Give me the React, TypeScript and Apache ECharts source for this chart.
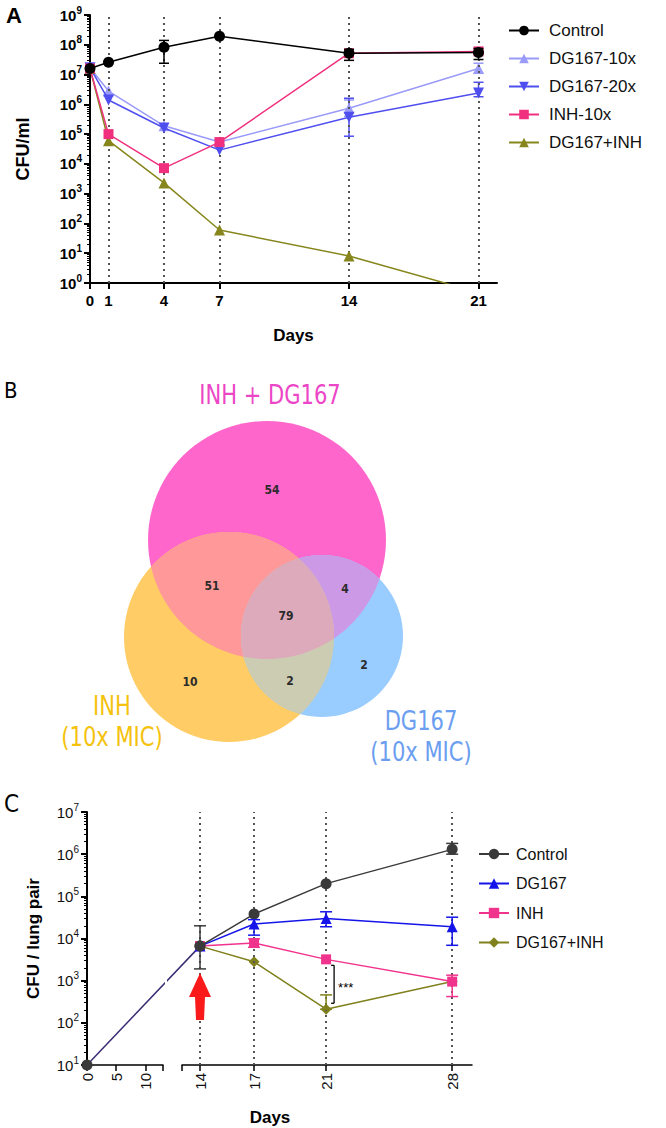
import React, { useEffect, useRef } from "react";
import * as echarts from "echarts";

// ---------------- Panel A data ----------------
const daysA = [0, 1, 4, 7, 14, 21];
const tickDaysA = [0, 1, 4, 7, 14, 21];
const dottedDaysA = [1, 4, 7, 14, 21];
const namesA = ["Control", "DG167-10x", "DG167-20x", "INH-10x", "DG167+INH"];
const controlA = [1.6e7, 2.6e7, 8.3e7, 1.95e8, 5.2e7, 5.5e7];
const controlA_lo = [null, null, 2.4e7, null, 3.0e7, 3.2e7];
const controlA_hi = [null, null, 1.4e8, null, 7.0e7, 7.5e7];
const dg10A = [1.7e7, 2.8e6, 1.9e5, 5.4e4, 7.4e5, 1.6e7];
const dg10A_lo = [null, null, null, null, 4.0e5, 1.1e7];
const dg10A_hi = [null, null, null, null, 1.4e6, 2.4e7];
const dg20A = [1.7e7, 1.4e6, 1.6e5, 2.9e4, 3.7e5, 2.4e6];
const dg20A_lo = [null, null, null, null, 8.5e4, 1.8e6];
const dg20A_hi = [null, null, null, null, 1.6e6, 5.5e6];
const inhA = [1.6e7, 1.0e5, 7.2e3, 5.4e4, 5.2e7, 6.0e7];
const comboA = [1.6e7, 6.0e4, 2.3e3, 6.0e1, 8.1, 0.48];

// ---------------- Panel B data ----------------
const vennSetNames = ["INH + DG167", "INH\n(10x MIC)", "DG167\n(10x MIC)"];
// regions: combo only, combo∩INH, all three, combo∩DG, INH only, INH∩DG, DG only
const vennRegionKeys = ["C", "CI", "CID", "CD", "I", "ID", "D"];
const vennRegionCounts = [54, 51, 79, 4, 10, 2, 2];

// ---------------- Panel C data ----------------
const preDaysC = [0, 14];
const preC = [10, 6.6e3];
const preC_lo = [null, 1.9e3];
const preC_hi = [null, 2.0e4];
const daysC = [14, 17, 21, 28];
const namesC = ["Control", "DG167", "INH", "DG167+INH"];
const controlC = [6.6e3, 3.8e4, 2.0e5, 1.3e6];
const controlC_lo = [null, null, null, 1.0e6];
const controlC_hi = [null, null, null, 1.8e6];
const dgC = [6.6e3, 2.2e4, 3.0e4, 1.9e4];
const dgC_lo = [null, 1.2e4, 1.9e4, 6.9e3];
const dgC_hi = [null, 2.8e4, 4.3e4, 3.2e4];
const inhC = [6.6e3, 7.8e3, 3.2e3, 9.5e2];
const inhC_lo = [null, 6.2e3, null, 4.2e2];
const inhC_hi = [null, 9.8e3, null, 1.35e3];
const comboC = [6.6e3, 2.8e3, 2.1e2, 9.5e2];
const comboC_lo = [null, null, 2.1e2, null];
const comboC_hi = [null, null, 4.6e2, null];
const dottedDaysC = [14, 17, 21, 28];
const leftTicksC = [0, 5, 10];
const rightTicksC = [14, 17, 21, 28];
const sigDay = 21;
const sigLabel = "***";
const arrowDay = 14;

// ---------------- helpers ----------------
const FONT = "'Liberation Sans', Arial, sans-serif";
const NARROW = "'Liberation Sans Narrow', 'DejaVu Sans Condensed', 'Liberation Sans', sans-serif";

const supLabel = (v: number) => "{b|10}{e|" + Math.round(Math.log10(v)) + "}";

function errorBars(xs: number[], lo: any[], hi: any[], color: string, xAxisIndex: number, yAxisIndex: number, xf: (d: number) => number = (d) => d, capHalf = 5, lw = 1.5, z = 3) {
  const data: number[][] = [];
  xs.forEach((d, i) => {
    if (lo[i] != null && hi[i] != null) data.push([xf(d), lo[i], hi[i]]);
  });
  return {
    type: "custom",
    xAxisIndex,
    yAxisIndex,
    silent: true,
    z,
    data,
    encode: { x: 0, y: [1, 2] },
    renderItem: (_p: any, api: any) => {
      const x = api.value(0);
      const p1 = api.coord([x, api.value(1)]);
      const p2 = api.coord([x, api.value(2)]);
      const st = { stroke: color, lineWidth: lw };
      return {
        type: "group",
        children: [
          { type: "line", shape: { x1: p1[0], y1: p1[1], x2: p2[0], y2: p2[1] }, style: st },
          { type: "line", shape: { x1: p1[0] - capHalf, y1: p1[1], x2: p1[0] + capHalf, y2: p1[1] }, style: st },
          { type: "line", shape: { x1: p2[0] - capHalf, y1: p2[1], x2: p2[0] + capHalf, y2: p2[1] }, style: st },
        ],
      };
    },
  };
}

// circle polygon + convex clipping for Venn overlaps
function circlePts(cx: number, cy: number, r: number, n = 180) {
  const pts: number[][] = [];
  for (let i = 0; i < n; i++) {
    const a = (2 * Math.PI * i) / n;
    pts.push([cx + r * Math.cos(a), cy + r * Math.sin(a)]);
  }
  return pts;
}
function clipPoly(subject: number[][], clip: number[][]) {
  let output = subject;
  for (let i = 0; i < clip.length; i++) {
    const A = clip[i];
    const B = clip[(i + 1) % clip.length];
    const input = output;
    output = [];
    if (!input.length) break;
    const inside = (p: number[]) => (B[0] - A[0]) * (p[1] - A[1]) - (B[1] - A[1]) * (p[0] - A[0]) >= 0;
    const inter = (p: number[], q: number[]) => {
      const a1 = B[1] - A[1], b1 = A[0] - B[0], c1 = a1 * A[0] + b1 * A[1];
      const a2 = q[1] - p[1], b2 = p[0] - q[0], c2 = a2 * p[0] + b2 * p[1];
      const det = a1 * b2 - a2 * b1;
      return [(b2 * c1 - b1 * c2) / det, (a1 * c2 - a2 * c1) / det];
    };
    let S = input[input.length - 1];
    for (const E of input) {
      if (inside(E)) {
        if (!inside(S)) output.push(inter(S, E));
        output.push(E);
      } else if (inside(S)) {
        output.push(inter(S, E));
      }
      S = E;
    }
  }
  return output;
}
const rgb = (c: number[]) => `rgb(${c.map((v) => Math.round(v)).join(",")})`;
const mix = (...cs: number[][]) => [0, 1, 2].map((k) => cs.reduce((s, c) => s + c[k], 0) / cs.length);

// ---------------- Option A + B ----------------
function optionAB() {
  const styleA = [
    { data: dg10A, color: "#9a9af8", symbol: "triangle", size: 11, rotate: 0 },
    { data: dg20A, color: "#4f4ff0", symbol: "triangle", size: 11, rotate: 180 },
    { data: comboA, color: "#86861c", symbol: "triangle", size: 11, rotate: 0 },
    { data: inhA, color: "#f0307f", symbol: "rect", size: 10, rotate: 0 },
    { data: controlA, color: "#000000", symbol: "circle", size: 11, rotate: 0 },
  ];
  const nameOrder = ["DG167-10x", "DG167-20x", "DG167+INH", "INH-10x", "Control"];
  const series: any[] = styleA.map((s, i) => ({
    name: nameOrder[i],
    type: "line",
    data: daysA.map((d, k) => [d, s.data[k]]),
    symbol: s.symbol,
    symbolSize: s.size,
    symbolRotate: s.rotate,
    lineStyle: { color: s.color, width: 1.5 },
    itemStyle: { color: s.color },
    clip: true,
    z: 4 + i,
  }));
  series.push({
    type: "line",
    data: [],
    silent: true,
    markLine: {
      silent: true,
      symbol: ["none", "none"],
      label: { show: false },
      lineStyle: { type: [2, 4], color: "#555", width: 2 },
      data: dottedDaysA.map((d) => ({ xAxis: d })),
    },
    z: 1,
  });
  series.push(errorBars(daysA, controlA_lo, controlA_hi, "#000", 0, 0, (d) => d, 5, 1.5, 9));
  series.push(errorBars(daysA, dg10A_lo, dg10A_hi, "#9a9af8", 0, 0, (d) => d, 5, 1.5, 3));
  series.push(errorBars(daysA, dg20A_lo, dg20A_hi, "#4f4ff0", 0, 0, (d) => d, 5, 1.5, 3));

  // Venn layout
  const circles = [
    { cx: 267, cy: 540, r: 119, color: [255, 102, 204] },
    { cx: 229, cy: 637, r: 105, color: [255, 204, 102] },
    { cx: 322, cy: 636, r: 81, color: [153, 204, 255] },
  ];
  const polys = circles.map((c) => circlePts(c.cx, c.cy, c.r));
  const g: any[] = [];
  circles.forEach((c) => g.push({ type: "circle", shape: { cx: c.cx, cy: c.cy, r: c.r }, style: { fill: rgb(c.color) }, z: 1 }));
  const pairs = [[0, 1], [0, 2], [1, 2]];
  pairs.forEach(([a, b]) => {
    g.push({ type: "polygon", shape: { points: clipPoly(polys[a], polys[b]) }, style: { fill: rgb(mix(circles[a].color, circles[b].color)) }, z: 2 });
  });
  g.push({
    type: "polygon",
    shape: { points: clipPoly(clipPoly(polys[0], polys[1]), polys[2]) },
    style: { fill: rgb(mix(circles[0].color, circles[1].color, circles[2].color)) },
    z: 3,
  });
  const regionPos: Record<string, number[]> = {
    C: [272, 490], CI: [212, 586], CID: [286, 616], CD: [345, 589], I: [190, 682], ID: [290, 681], D: [364, 665],
  };
  vennRegionKeys.forEach((k, i) => {
    g.push({
      type: "text", x: regionPos[k][0], y: regionPos[k][1], z: 5,
      style: { text: String(vennRegionCounts[i]), fill: "#2b2b2b", font: `bold 12px ${NARROW}`, textAlign: "center", textVerticalAlign: "middle" },
    });
  });
  const setLabelPos = [[270, 395, "#ec46c6"], [112, 722, "#f4c20d"], [421, 737, "#6b9ef0"]];
  vennSetNames.forEach((n, i) => {
    g.push({
      type: "text", x: setLabelPos[i][0], y: setLabelPos[i][1], z: 5, scaleX: 0.9,
      style: { text: n, fill: setLabelPos[i][2], font: `26px ${NARROW}`, textAlign: "center", textVerticalAlign: "middle", lineHeight: 31 },
    });
  });
  // panel letters
  g.push({ type: "text", x: 6, y: 4, style: { text: "A", fill: "#000", font: `bold 22px ${FONT}` } });
  g.push({ type: "text", x: 4, y: 379, style: { text: "B", fill: "#000", font: `22px ${NARROW}` } });

  return {
    animation: false,
    graphic: g,
    legend: {
      orient: "vertical",
      left: 503,
      top: 17,
      itemWidth: 30,
      itemHeight: 12,
      itemGap: 11,
      data: namesA,
      textStyle: { fontSize: 17, fontFamily: FONT, color: "#111", padding: [0, 0, 0, 5] },
    },
    grid: { left: 90, top: 15, width: 407, height: 268 },
    xAxis: {
      type: "value",
      min: 0,
      max: 22,
      axisLine: { show: true, lineStyle: { color: "#000", width: 2 } },
      axisTick: { show: true, customValues: tickDaysA, length: 6, lineStyle: { color: "#000", width: 2 } },
      axisLabel: { customValues: tickDaysA, fontSize: 15, fontWeight: "bold", fontFamily: FONT, color: "#000", margin: 10 },
      splitLine: { show: false },
      name: "Days",
      nameLocation: "middle",
      nameGap: 44,
      nameTextStyle: { fontSize: 17, fontWeight: "bold", fontFamily: FONT, color: "#000" },
    },
    yAxis: {
      type: "log",
      logBase: 10,
      min: 1,
      max: 1e9,
      splitNumber: 9,
      axisLine: { show: true, lineStyle: { color: "#000", width: 2 } },
      axisTick: { show: true, length: 6, lineStyle: { color: "#000", width: 2 } },
      minorTick: { show: true, splitNumber: 9, length: 3, lineStyle: { color: "#000", width: 1 } },
      splitLine: { show: false },
      axisLabel: {
        formatter: supLabel,
        margin: 8,
        rich: {
          b: { fontSize: 15, fontWeight: "bold", fontFamily: FONT, color: "#000", lineHeight: 20 },
          e: { fontSize: 10, fontWeight: "bold", fontFamily: FONT, color: "#000", verticalAlign: "top", lineHeight: 12 },
        },
      },
      name: "CFU/ml",
      nameLocation: "middle",
      nameGap: 58,
      nameTextStyle: { fontSize: 18, fontWeight: "bold", fontFamily: FONT, color: "#000" },
    },
    series,
  };
}

// ---------------- Option C ----------------
const C_TOP = 812;
const C_H = 253;
const C_L = { x: 87, w: 76, d0: 0, d1: 13 };
const C_R = { x: 182, w: 290, d0: 13, d1: 29.1 };
const uC = (d: number) =>
  d <= C_L.d1 ? ((d - C_L.d0) / (C_L.d1 - C_L.d0)) * C_L.w : C_R.x - C_L.x + ((d - C_R.d0) / (C_R.d1 - C_R.d0)) * C_R.w;
const U_MAX = C_R.x + C_R.w - C_L.x;

function optionC() {
  const richC = {
    b: { fontSize: 15, fontFamily: FONT, color: "#111", lineHeight: 20 },
    e: { fontSize: 10, fontFamily: FONT, color: "#111", verticalAlign: "top", lineHeight: 12 },
  };
  const axisLineC = { show: true, lineStyle: { color: "#000", width: 1.5 } };
  const tickC = { length: 6, lineStyle: { color: "#000", width: 1.5 } };
  const styleC = [
    { name: "DG167+INH", data: comboC, color: "#80801c", symbol: "diamond", size: 11 },
    { name: "INH", data: inhC, color: "#f0338c", symbol: "rect", size: 10 },
    { name: "DG167", data: dgC, color: "#1515ea", symbol: "triangle", size: 11 },
    { name: "Control", data: controlC, color: "#3a3a3a", symbol: "circle", size: 11 },
  ];
  const series: any[] = [];
  series.push({
    type: "line",
    xAxisIndex: 2,
    yAxisIndex: 2,
    data: preDaysC.map((d, i) => [uC(d), preC[i]]),
    symbol: "circle",
    symbolSize: 11,
    lineStyle: { color: "#3b2c74", width: 1.5 },
    itemStyle: { color: "#3a3a3a" },
    z: 3,
    markLine: {
      silent: true,
      symbol: ["none", "none"],
      label: { show: false },
      lineStyle: { type: [2, 4], color: "#555", width: 2 },
      data: dottedDaysC.map((d) => ({ xAxis: uC(d) })),
    },
  });
  styleC.forEach((s, i) => {
    series.push({
      name: s.name,
      type: "line",
      xAxisIndex: 2,
      yAxisIndex: 2,
      data: daysC.map((d, k) => [uC(d), s.data[k]]),
      symbol: s.symbol,
      symbolSize: s.size,
      lineStyle: { color: s.color, width: 1.5 },
      itemStyle: { color: s.color },
      z: 4 + i,
    });
  });
  series.push(errorBars(preDaysC, preC_lo, preC_hi, "#3a3a3a", 2, 2, uC, 6, 1.5, 9));
  series.push(errorBars(daysC, controlC_lo, controlC_hi, "#3a3a3a", 2, 2, uC, 6, 1.5, 9));
  series.push(errorBars(daysC, dgC_lo, dgC_hi, "#1515ea", 2, 2, uC, 6, 1.5, 9));
  series.push(errorBars(daysC, inhC_lo, inhC_hi, "#f0338c", 2, 2, uC, 6, 1.5, 9));
  series.push(errorBars(daysC, comboC_lo, comboC_hi, "#80801c", 2, 2, uC, 6, 1.5, 9));
  // rotated tick labels of the compressed left x segment (days 0-13)
  series.push({
    type: "custom",
    xAxisIndex: 0,
    yAxisIndex: 0,
    silent: true,
    clip: false,
    z: 10,
    data: leftTicksC.map((d) => [d, 10]),
    renderItem: (_p: any, api: any) => {
      const c = api.coord([api.value(0), api.value(1)]);
      return {
        type: "text",
        x: c[0],
        y: c[1] + 8,
        rotation: Math.PI / 2,
        style: { text: String(api.value(0)), fill: "#111", font: `15px ${FONT}`, textAlign: "right", textVerticalAlign: "middle" },
      };
    },
  });
  // significance bracket
  const si = daysC.indexOf(sigDay);
  series.push({
    type: "custom",
    xAxisIndex: 2,
    yAxisIndex: 2,
    silent: true,
    z: 10,
    data: [[uC(sigDay), inhC[si], comboC[si]]],
    renderItem: (_p: any, api: any) => {
      const a = api.coord([api.value(0), api.value(1)]);
      const b = api.coord([api.value(0), api.value(2)]);
      const bx = a[0] + 8;
      const t = a[1] + 6;
      const btm = b[1] - 6;
      const st = { stroke: "#000", lineWidth: 1.3 };
      return {
        type: "group",
        children: [
          { type: "line", shape: { x1: bx, y1: t, x2: bx, y2: btm }, style: st },
          { type: "line", shape: { x1: bx - 3, y1: t, x2: bx, y2: t }, style: st },
          { type: "line", shape: { x1: bx - 3, y1: btm, x2: bx, y2: btm }, style: st },
          { type: "text", x: bx + 4, y: (t + btm) / 2 + 3, style: { text: sigLabel, fill: "#000", font: `13px ${FONT}`, textVerticalAlign: "middle" } },
        ],
      };
    },
  });
  // red arrow at treatment start
  const ai = preDaysC.indexOf(arrowDay);
  series.push({
    type: "custom",
    xAxisIndex: 2,
    yAxisIndex: 2,
    silent: true,
    z: 10,
    data: [[uC(arrowDay), preC[ai]]],
    renderItem: (_p: any, api: any) => {
      const c = api.coord([api.value(0), api.value(1)]);
      const x = c[0];
      const y = c[1];
      return {
        type: "polygon",
        shape: {
          points: [[x, y + 27], [x + 11, y + 51], [x + 5, y + 51], [x + 4, y + 74], [x - 4, y + 74], [x - 5, y + 51], [x - 11, y + 51]],
        },
        style: { fill: "#fa1a1a" },
      };
    },
  });

  const xLabelC = { rotate: 90, fontSize: 15, fontFamily: FONT, color: "#111", margin: 8, hideOverlap: false };

  return {
    animation: false,
    graphic: [
      { type: "rect", shape: { x: C_L.x + C_L.w + 2, y: C_TOP, width: C_R.x - C_L.x - C_L.w - 17, height: C_H - 6 }, style: { fill: "#fff" }, z: 50 },
      { type: "text", x: 4, y: 792, style: { text: "C", fill: "#000", font: `24px ${NARROW}` } },
      { type: "text", x: 270, y: 1117, style: { text: "Days", fill: "#000", font: `bold 17px ${FONT}`, textAlign: "center", textVerticalAlign: "middle" } },
    ],
    legend: {
      orient: "vertical",
      left: 473,
      top: 841,
      itemWidth: 30,
      itemHeight: 13,
      itemGap: 13.5,
      data: namesC,
      textStyle: { fontSize: 16, fontFamily: FONT, color: "#111", padding: [0, 0, 0, 2] },
    },
    grid: [
      { left: C_L.x, top: C_TOP, width: C_L.w, height: C_H },
      { left: C_R.x, top: C_TOP, width: C_R.w, height: C_H },
      { left: C_L.x, top: C_TOP, width: U_MAX, height: C_H },
    ],
    xAxis: [
      {
        gridIndex: 0, type: "value", min: C_L.d0, max: C_L.d1, interval: 5,
        axisLine: axisLineC,
        axisTick: { show: true, customValues: [...leftTicksC, C_L.d1], ...tickC },
        axisLabel: { show: false },
        splitLine: { show: false },
      },
      {
        gridIndex: 1, type: "value", min: C_R.d0, max: C_R.d1, interval: 1,
        axisLine: axisLineC,
        axisTick: { show: true, customValues: [C_R.d0, ...rightTicksC], ...tickC },
        axisLabel: { ...xLabelC, showMaxLabel: false, formatter: (v: number) => (rightTicksC.includes(v) ? String(v) : "") },
        splitLine: { show: false },
      },
      { gridIndex: 2, type: "value", min: 0, max: U_MAX, show: false },
    ],
    yAxis: [
      {
        gridIndex: 0, type: "log", logBase: 10, min: 10, max: 1e7, splitNumber: 6,
        axisLine: { show: true, lineStyle: { color: "#000", width: 2 } },
        axisTick: { show: true, length: 6, lineStyle: { color: "#000", width: 2 } },
        minorTick: { show: true, splitNumber: 9, length: 3, lineStyle: { color: "#000", width: 1 } },
        splitLine: { show: false },
        axisLabel: { formatter: supLabel, margin: 8, rich: richC },
        name: "CFU / lung pair",
        nameLocation: "middle",
        nameGap: 45,
        nameTextStyle: { fontSize: 17, fontWeight: "bold", fontFamily: FONT, color: "#000" },
      },
      { gridIndex: 1, type: "log", logBase: 10, min: 10, max: 1e7, show: false },
      { gridIndex: 2, type: "log", logBase: 10, min: 10, max: 1e7, show: false },
    ],
    series,
  };
}

export default function App() {
  const refA = useRef<HTMLDivElement>(null);
  const refC = useRef<HTMLDivElement>(null);
  useEffect(() => {
    const ca = echarts.init(refA.current!, null, { renderer: "svg" });
    ca.setOption(optionAB() as any);
    const cc = echarts.init(refC.current!, null, { renderer: "svg" });
    cc.setOption(optionC() as any);
    return () => {
      ca.dispose();
      cc.dispose();
    };
  }, []);
  const layer: React.CSSProperties = { position: "absolute", left: 0, top: 0, width: 666, height: 1128 };
  return (
    <div style={{ position: "fixed", left: 0, top: 0, width: 666, height: 1128, background: "#fff" }}>
      <div ref={refA} style={layer} />
      <div ref={refC} style={layer} />
    </div>
  );
}
